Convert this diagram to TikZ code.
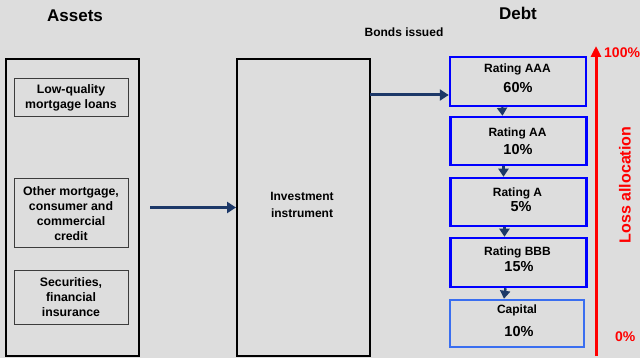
\documentclass[tikz,border=0pt]{standalone}
\usepackage{fontspec}
\setmainfont{Liberation Sans}
\usetikzlibrary{arrows.meta}
\definecolor{bg}{RGB}{221,221,221}
\definecolor{navy}{RGB}{28,56,104}
\definecolor{capblue}{RGB}{58,110,240}
\definecolor{gborder}{RGB}{60,60,60}
\tikzset{
  txt/.style={font=\bfseries\fontsize{12.3}{15}\selectfont, align=center, inner sep=0pt},
  title/.style={font=\bfseries\fontsize{17}{17}\selectfont, inner sep=0pt},
  pct/.style={font=\bfseries\fontsize{14.5}{14.5}\selectfont, inner sep=0pt},
  bigbox/.style={draw=black, line width=2pt, minimum width=133pt, minimum height=297pt, inner sep=0pt},
  assetbox/.style={draw=gborder, line width=1pt, minimum width=114pt, inner sep=0pt, txt},
  tranche/.style={draw=blue, line width=2.5pt, minimum width=136pt, inner sep=0pt},
  arr/.style={draw=navy, line width=3pt, -{Triangle[length=9pt,width=11pt]}},
  sarr/.style={draw=navy, line width=2.5pt, -{Triangle[length=8pt,width=10pt]}},
  redarr/.style={draw=red, line width=3pt, -{Triangle[length=11pt,width=10pt]}},
  redtxt/.style={text=red, font=\bfseries\fontsize{14}{14}\selectfont, inner sep=0pt}
}
\begin{document}
\begin{tikzpicture}[x=1pt,y=-1pt]
\fill[bg] (0,0) rectangle (640,358);
\useasboundingbox (0,0) rectangle (640,358);

% titles
\node[title] (tassets) at (75,16) {Assets};
\node[title] (tdebt) at (518,13) {Debt};
\node[txt, font=\bfseries\fontsize{12}{12}\selectfont] (tbonds) at (404,32) {Bonds issued};

% assets
\node[bigbox] (assets) at (72.5,207.5) {};
\node[assetbox, minimum height=38pt] (b1) at (71,98) {Low-quality\\mortgage loans};
\node[assetbox, minimum height=69pt] (b2) at (71,213.5) {Other mortgage,\\consumer and\\commercial\\credit};
\node[assetbox, minimum height=54pt] (b3) at (71,297) {Securities,\\financial\\insurance};

% instrument
\node[bigbox] (inst) at (303.5,207.5) {};
\node[txt, font=\bfseries\fontsize{12}{16.5}\selectfont] (tinst) at (302,205) {Investment\\instrument};

% tranches
\node[tranche, minimum height=49pt] (aaa) at (518,81.5) {};
\node[tranche, minimum height=48pt] (aa) at (518.5,141) {};
\node[tranche, minimum height=48pt] (a) at (518.5,202) {};
\node[tranche, minimum height=49pt] (bbb) at (518.5,262.5) {};
\node[tranche, draw=capblue, minimum width=134pt, minimum height=47pt] (cap) at (517,323.5) {};

\node[txt, font=\bfseries\fontsize{12}{12}\selectfont] (laaa) at (517.5,69) {Rating AAA};
\node[pct] (paaa) at (518,88) {60\%};
\node[txt, font=\bfseries\fontsize{12}{12}\selectfont] (laa) at (517.5,133) {Rating AA};
\node[pct] (paa) at (518,150) {10\%};
\node[txt, font=\bfseries\fontsize{12}{12}\selectfont] (la) at (517.5,193) {Rating A};
\node[pct] (pa) at (521,207) {5\%};
\node[txt, font=\bfseries\fontsize{12}{12}\selectfont] (lbbb) at (517.5,252) {Rating BBB};
\node[pct] (pbbb) at (519,267) {15\%};
\node[txt, font=\bfseries\fontsize{12}{12}\selectfont] (lcap) at (517,310) {Capital};
\node[pct] (pcap) at (519,332) {10\%};

% connectors
\draw[arr, shorten <=10pt] (assets) -- (inst);
\coordinate (bi) at (370,95);
\draw[arr] (bi) -- (aaa.west |- bi);
\draw[sarr] ([xshift=-16pt]aaa.south) -- ([xshift=-16pt]aa.north);
\draw[sarr] ([xshift=-15pt]aa.south) -- ([xshift=-15pt]a.north);
\draw[sarr] ([xshift=-14pt]a.south) -- ([xshift=-14pt]bbb.north);
\draw[sarr] ([xshift=-13pt]bbb.south) -- ([xshift=-13pt]cap.north);

% loss allocation
\coordinate (lbot) at (596,356);
\coordinate (ltop) at (596,46);
\draw[redarr] (lbot) -- (ltop);
\node[redtxt, anchor=west] (p100) at (604,53) {100\%};
\node[redtxt, anchor=west] (p0) at (615,337) {0\%};
\node[redtxt, font=\bfseries\fontsize{16}{16}\selectfont, rotate=90] (loss) at (625,185) {Loss allocation};
\end{tikzpicture}
\end{document}
